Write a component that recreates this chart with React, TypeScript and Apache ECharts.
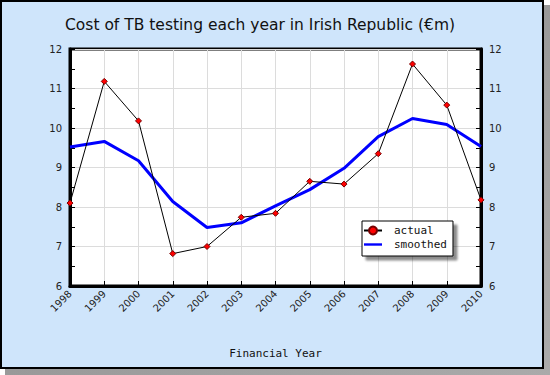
import React, { useEffect, useRef } from "react";
import * as echarts from "echarts";

const years = ["1998","1999","2000","2001","2002","2003","2004","2005","2006","2007","2008","2009","2010"];
const actual = [8.1, 11.18, 10.18, 6.82, 7.0, 7.74, 7.84, 8.65, 8.58, 9.35, 11.62, 10.58, 8.18];
const smoothed = [9.52, 9.66, 9.17, 8.14, 7.48, 7.6, 8.03, 8.44, 8.98, 9.78, 10.24, 10.09, 9.53];
const yMin = 6;
const yMax = 12;
const titleText = "Cost of TB testing each year in Irish Republic (€m)";
const xName = "Financial Year";

export default function App() {
  const ref = useRef<HTMLDivElement>(null);
  useEffect(() => {
    document.body.style.margin = "0";
    if (!ref.current) return;
    const chart = echarts.init(ref.current, null, { renderer: "svg" });
    const yAxisBase = (pos: "left" | "right") => ({
      type: "value" as const,
      position: pos,
      min: yMin,
      max: yMax,
      interval: 1,
      axisLine: { show: true, lineStyle: { color: "#000", width: 3 } },
      axisTick: { show: true, inside: true, length: 5, lineStyle: { color: "#000" } },
      minorTick: { show: true, splitNumber: 2, length: 5, lineStyle: { color: "#000" } },
      axisLabel: { color: "#222", fontFamily: "DejaVu Sans", fontSize: 10, margin: 8 },
      splitLine: { show: pos === "left", lineStyle: { color: "#dcdcdc", width: 1 } },
    });
    chart.setOption({
      animation: false,
      graphic: [
        {
          type: "rect", z: -11, silent: true,
          shape: { x: 5, y: 5, width: 545, height: 370 },
          style: {
            fill: new echarts.graphic.LinearGradient(0, 0, 1, 1, [
              { offset: 0, color: "#888" },
              { offset: 1, color: "#aaa" },
            ]),
          },
        },
        {
          type: "rect", z: -9, silent: true,
          shape: { x: 1, y: 1, width: 542, height: 367 },
          style: { fill: "#cfe5fb", stroke: "#000", lineWidth: 2 },
        },
      ],
      title: {
        text: titleText,
        left: 60,
        top: 12,
        textStyle: { fontFamily: "DejaVu Sans", fontSize: 15.5, fontWeight: "normal", color: "#111" },
      },
      grid: {
        left: 70, right: 69, top: 49, bottom: 89,
        show: true, backgroundColor: "#fff", borderColor: "#000", borderWidth: 3,
      },
      legend: {
        orient: "vertical",
        left: 362,
        top: 221,
        backgroundColor: "#fff",
        borderColor: "#000",
        borderWidth: 1,
        padding: [4, 6, 6, 1],
        itemGap: 3,
        itemWidth: 18,
        itemHeight: 10,
        shadowColor: "rgba(0,0,0,0.45)",
        shadowBlur: 2,
        shadowOffsetX: 4,
        shadowOffsetY: 4,
        textStyle: { fontFamily: "DejaVu Sans Mono", fontSize: 11, color: "#111", padding: [0, 0, 0, 7] },
        data: ["actual", { name: "smoothed", icon: "path://M0,0h30v4h-30z" }],
      },
      xAxis: {
        type: "category",
        data: years,
        boundaryGap: false,
        name: xName,
        nameLocation: "middle",
        nameGap: 62,
        nameTextStyle: { fontFamily: "DejaVu Sans Mono", fontSize: 11, color: "#111" },
        axisLine: { show: true, lineStyle: { color: "#000", width: 3 } },
        axisTick: { show: true, inside: true, length: 5, lineStyle: { color: "#000" } },
        axisLabel: { rotate: 45, color: "#222", fontFamily: "DejaVu Sans", fontSize: 10, margin: 6 },
        splitLine: { show: true, lineStyle: { color: "#dcdcdc", width: 1 } },
      },
      yAxis: [yAxisBase("left"), yAxisBase("right")],
      series: [
        {
          name: "actual",
          type: "line",
          data: actual.map((v) => ({ value: v, symbol: "diamond" })),
          symbol: "circle",
          symbolSize: 6,
          showAllSymbol: true,
          lineStyle: { color: "#000", width: 1 },
          itemStyle: { color: "#ff0000", borderColor: "#700", borderWidth: 1 },
          z: 3,
        },
        {
          name: "smoothed",
          type: "line",
          data: smoothed,
          symbol: "none",
          lineStyle: { color: "#0000ff", width: 3 },
          itemStyle: { color: "#0000ff" },
          z: 2,
        },
      ],
    });
    return () => chart.dispose();
  }, []);
  return <div ref={ref} style={{ width: 550, height: 375 }} />;
}
